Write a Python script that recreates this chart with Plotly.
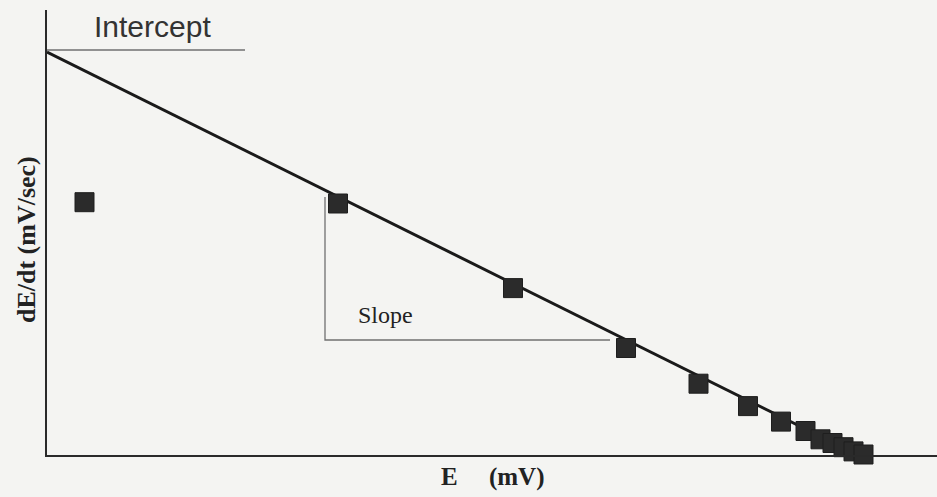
import plotly.graph_objects as go

# Data (E in arbitrary mV units, dE/dt in arbitrary mV/sec units)
E_points = [37.5, 291, 466, 579, 651.5, 701, 734, 758.5, 773.5, 785.5, 796.5, 806.5, 816.5]
dEdt_points = [252.8, 251.5, 166.9, 107, 71.3, 48.9, 33.4, 24, 15.7, 12, 7.8, 3.6, 0.5]

# Linear fit (intercept and slope of dE/dt vs E)
INTERCEPT = 403.0
SLOPE = -0.497
fit_E = [0, -INTERCEPT / SLOPE]
fit_y = [INTERCEPT + SLOPE * e for e in fit_E]

# Construction lines for the "Slope" triangle and "Intercept" marker
slope_E = [278, 278, 563]
slope_y = [258, 115, 115]
intercept_E = [0, 198]
intercept_y = [INTERCEPT + 2, INTERCEPT + 2]

BG = "#f4f4f2"
SERIF = "Liberation Serif, Times New Roman, serif"
SANS = "Liberation Sans, Arial, sans-serif"

fig = go.Figure()

fig.add_trace(go.Scatter(x=intercept_E, y=intercept_y, mode="lines",
                         line=dict(color="#707070", width=1.3), hoverinfo="skip"))
fig.add_trace(go.Scatter(x=slope_E, y=slope_y, mode="lines",
                         line=dict(color="#707070", width=1.3), hoverinfo="skip"))
fig.add_trace(go.Scatter(x=fit_E, y=fit_y, mode="lines",
                         line=dict(color="#1a1a1a", width=3), hoverinfo="skip"))
fig.add_trace(go.Scatter(x=E_points, y=dEdt_points, mode="markers",
                         marker=dict(symbol="square", size=19, color="#2b2b2b",
                                     line=dict(color="#1e1e1e", width=1)),
                         cliponaxis=False))

fig.add_annotation(x=105, y=429, xref="x", yref="y", text="Intercept", showarrow=False,
                   font=dict(family=SANS, size=30, color="#333333"))
fig.add_annotation(x=338, y=140, xref="x", yref="y", text="Slope", showarrow=False,
                   font=dict(family=SERIF, size=24, color="#222222"))
fig.add_annotation(x=0.5, y=0, xref="paper", yref="paper", yanchor="middle", yshift=-22,
                   text="<b>E\u00a0\u00a0\u00a0\u00a0\u00a0(mV)</b>", showarrow=False,
                   font=dict(family=SERIF, size=25, color="#222222"))
fig.add_annotation(x=0, y=0.483, xref="paper", yref="paper", xanchor="center", xshift=-21,
                   text="<b>dE/dt (mV/sec)</b>", textangle=-90, showarrow=False,
                   font=dict(family=SERIF, size=26, color="#222222"))

fig.update_layout(
    width=937, height=497,
    margin=dict(l=47, r=0, t=10, b=42),
    paper_bgcolor=BG, plot_bgcolor=BG,
    showlegend=False,
    xaxis=dict(range=[0, 890], showgrid=False, zeroline=False, showticklabels=False,
               ticks="", showline=True, linecolor="#2a2a2a", linewidth=2.2),
    yaxis=dict(range=[0, 445], showgrid=False, zeroline=False, showticklabels=False,
               ticks="", showline=True, linecolor="#2a2a2a", linewidth=2.2),
)

fig.write_html(
    "out.html",
    config={"displayModeBar": False},
    post_script="document.body.style.margin='0';document.body.style.background='" + BG + "';",
)
